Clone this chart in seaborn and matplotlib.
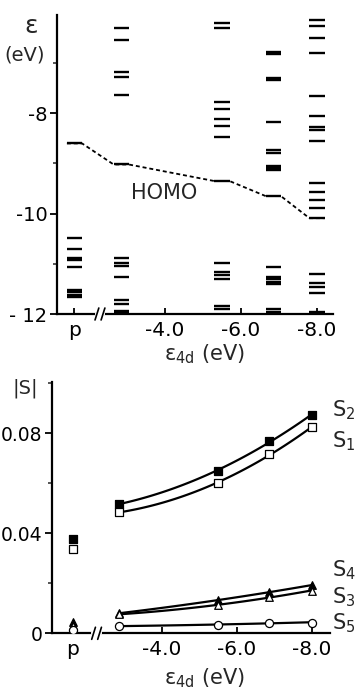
import numpy as np
import pandas as pd
import matplotlib
matplotlib.use("Agg")
import matplotlib.pyplot as plt
import matplotlib.transforms as mtransforms
import seaborn as sns

sns.set_theme(style="ticks")
plt.rcParams['font.family'] = ['DejaVu Sans']
plt.rcParams['axes.unicode_minus'] = False
plt.rcParams['mathtext.default'] = 'regular'

# x positions: "p" column, then eps_4d values (eV)
p_pos = 1.62
eps_4d = [-2.85, -5.5, -6.85, -8.0]

# one-electron levels (eV) per column
levels_p = [-8.60, -10.49, -10.70, -10.88, -10.93, -11.06, -11.52, -11.57, -11.62, -11.67]
levels_1 = [-6.30, -6.54, -7.17, -7.27, -7.63, -9.02,
            -10.89, -10.99, -11.04, -11.26, -11.73, -11.81, -11.95, -11.99]
levels_2 = [-6.19, -6.30, -7.78, -7.91, -8.11, -8.25, -8.47, -9.35,
            -10.99, -11.17, -11.23, -11.31, -11.85, -11.91]
levels_3 = [-6.77, -6.81, -7.30, -7.34, -8.17, -8.73, -8.80, -9.05, -9.09, -9.13, -9.65,
            -11.06, -11.26, -11.31, -11.36, -11.40, -11.91, -11.96]
levels_4 = [-6.13, -6.25, -6.49, -6.79, -7.66, -8.05, -8.27, -8.34, -8.55,
            -9.39, -9.57, -9.73, -9.88, -10.09, -11.21, -11.39, -11.47, -11.59, -11.97]
homo = [-8.60, -9.02, -9.35, -9.65, -10.09]

# overlap |S| values
s1 = [0.0484, 0.0600, 0.0717, 0.0823]
s2 = [0.0517, 0.0649, 0.0769, 0.0873]
s3 = [0.0076, 0.0113, 0.0144, 0.0171]
s4 = [0.0080, 0.0133, 0.0164, 0.0193]
s5 = [0.0029, 0.0033, 0.0043, 0.0043]
s_p = {'S1': 0.0337, 'S2': 0.0376, 'S3': 0.0030, 'S4': 0.0047, 'S5': 0.0013}

x_ticks = [4.0, 6.0, 8.0]
x_ticklabels = ['-4.0', '-6.0', '-8.0']

W, H = 361, 689
fig = plt.figure(figsize=(W / 100, H / 100), dpi=100)


def frac(x, y):
    return x / W, 1 - y / H


def style_axis(ax, ylabelsize=14):
    sns.despine(ax=ax)
    for s in ['left', 'bottom']:
        ax.spines[s].set_linewidth(1.6)
        ax.spines[s].set_color('black')
    ax.tick_params(axis='y', which='major', direction='out', length=5, width=1.3,
                   labelsize=ylabelsize, pad=2, colors='black')
    ax.tick_params(axis='y', which='minor', direction='out', length=3, width=1.1)
    ax.tick_params(axis='x', which='major', direction='in', length=4, width=1.3,
                   labelsize=14.5, pad=5, colors='black')
    ax.set_xticks([p_pos] + x_ticks)
    ax.set_xticklabels(['p'] + x_ticklabels)
    ax.grid(False)
    ax.set_facecolor('white')


def draw_break(ax, xb, dy):
    tr = mtransforms.blended_transform_factory(ax.transData, ax.transAxes)
    ax.plot([xb - 0.09, xb + 0.09], [0, 0], color='white', lw=3, transform=tr,
            clip_on=False, zorder=5)
    for dx in (-0.08, 0.08):
        ax.plot([xb + dx - 0.05, xb + dx + 0.05], [-dy, dy], color='black', lw=1.2,
                transform=tr, clip_on=False, zorder=6)


# ---------------- top panel: level diagram ----------------
ax1 = fig.add_axes([57 / W, 1 - 314 / H, 276 / W, 299 / H])
style_axis(ax1)
ax1.set_xlim(1.16, 8.42)
ax1.set_ylim(-12, -6.04)
ax1.set_yticks([-8, -10, -12])
ax1.set_yticklabels(['-8', '-10', '- 12'])
ax1.set_yticks([-7, -9, -11], minor=True)

hw = 0.2
cols_x = [p_pos] + [-e for e in eps_4d]
cols = [levels_p, levels_1, levels_2, levels_3, levels_4]
for x, lv in zip(cols_x, cols):
    ax1.hlines(lv, x - hw, x + hw, color='black', lw=1.7, zorder=3)

homo_df = pd.DataFrame({
    'x': np.ravel([[x - hw, x + hw] for x in cols_x]),
    'E': np.repeat(homo, 2),
})
sns.lineplot(data=homo_df, x='x', y='E', ax=ax1, color='black', lw=1.3,
             linestyle=(0, (2.2, 1.6)), sort=False, zorder=2)
ax1.set_xlabel('ε$_{4d}$ (eV)', fontsize=15)
ax1.set_ylabel('')
ax1.xaxis.set_label_coords(0.536, -0.095)
draw_break(ax1, 2.29, 0.02)

fig.text(*frac(31, 26), 'ε', fontsize=18, ha='center', va='center')
fig.text(*frac(25, 55), '(eV)', fontsize=14, ha='center', va='center')
fig.text(*frac(164, 193), 'HOMO', fontsize=15, ha='center', va='center')

# ---------------- bottom panel: overlaps ----------------
ax2 = fig.add_axes([52.3 / W, 1 - 633.3 / H, 278 / W, 251.6 / H])
style_axis(ax2, ylabelsize=13.5)
ax2.set_xlim(1.08, 8.49)
ax2.set_ylim(0, 0.1006)
ax2.set_yticks([0, 0.04, 0.08])
ax2.set_yticklabels(['0', '0.04', '0.08'])
ax2.set_yticks([0.02, 0.06, 0.10], minor=True)

xs = [-e for e in eps_4d]
series = [
    ('S2', s2, 's', 'black'),
    ('S1', s1, 's', 'white'),
    ('S4', s4, '^', 'black'),
    ('S3', s3, '^', 'white'),
    ('S5', s5, 'o', 'white'),
]
for name, vals, mk, fc in series:
    df = pd.DataFrame({'x': xs, 'S': vals})
    sns.regplot(data=df, x='x', y='S', order=2, ci=None, scatter=False, truncate=True,
                ax=ax2, line_kws={'color': 'black', 'lw': 1.6, 'zorder': 2})
    dfp = pd.DataFrame({'x': [p_pos] + xs, 'S': [s_p[name]] + vals})
    sns.scatterplot(data=dfp, x='x', y='S', ax=ax2, marker=mk, s=30 if mk != 'o' else 34,
                    facecolor=fc, edgecolor='black', linewidth=0.9, zorder=4)

ax2.set_xlabel('ε$_{4d}$ (eV)', fontsize=15)
ax2.set_ylabel('')
ax2.xaxis.set_label_coords(0.549, -0.13)
draw_break(ax2, 2.26, 0.024)

fig.text(*frac(25, 388), '|S|', fontsize=14, ha='center', va='center')
for name, yy in [('2', 410), ('1', 441), ('4', 570), ('3', 597), ('5', 623)]:
    fig.text(*frac(344, yy), 'S$_{%s}$' % name, fontsize=15, ha='center', va='center')

fig.savefig('out.png', dpi=100, facecolor='white')
